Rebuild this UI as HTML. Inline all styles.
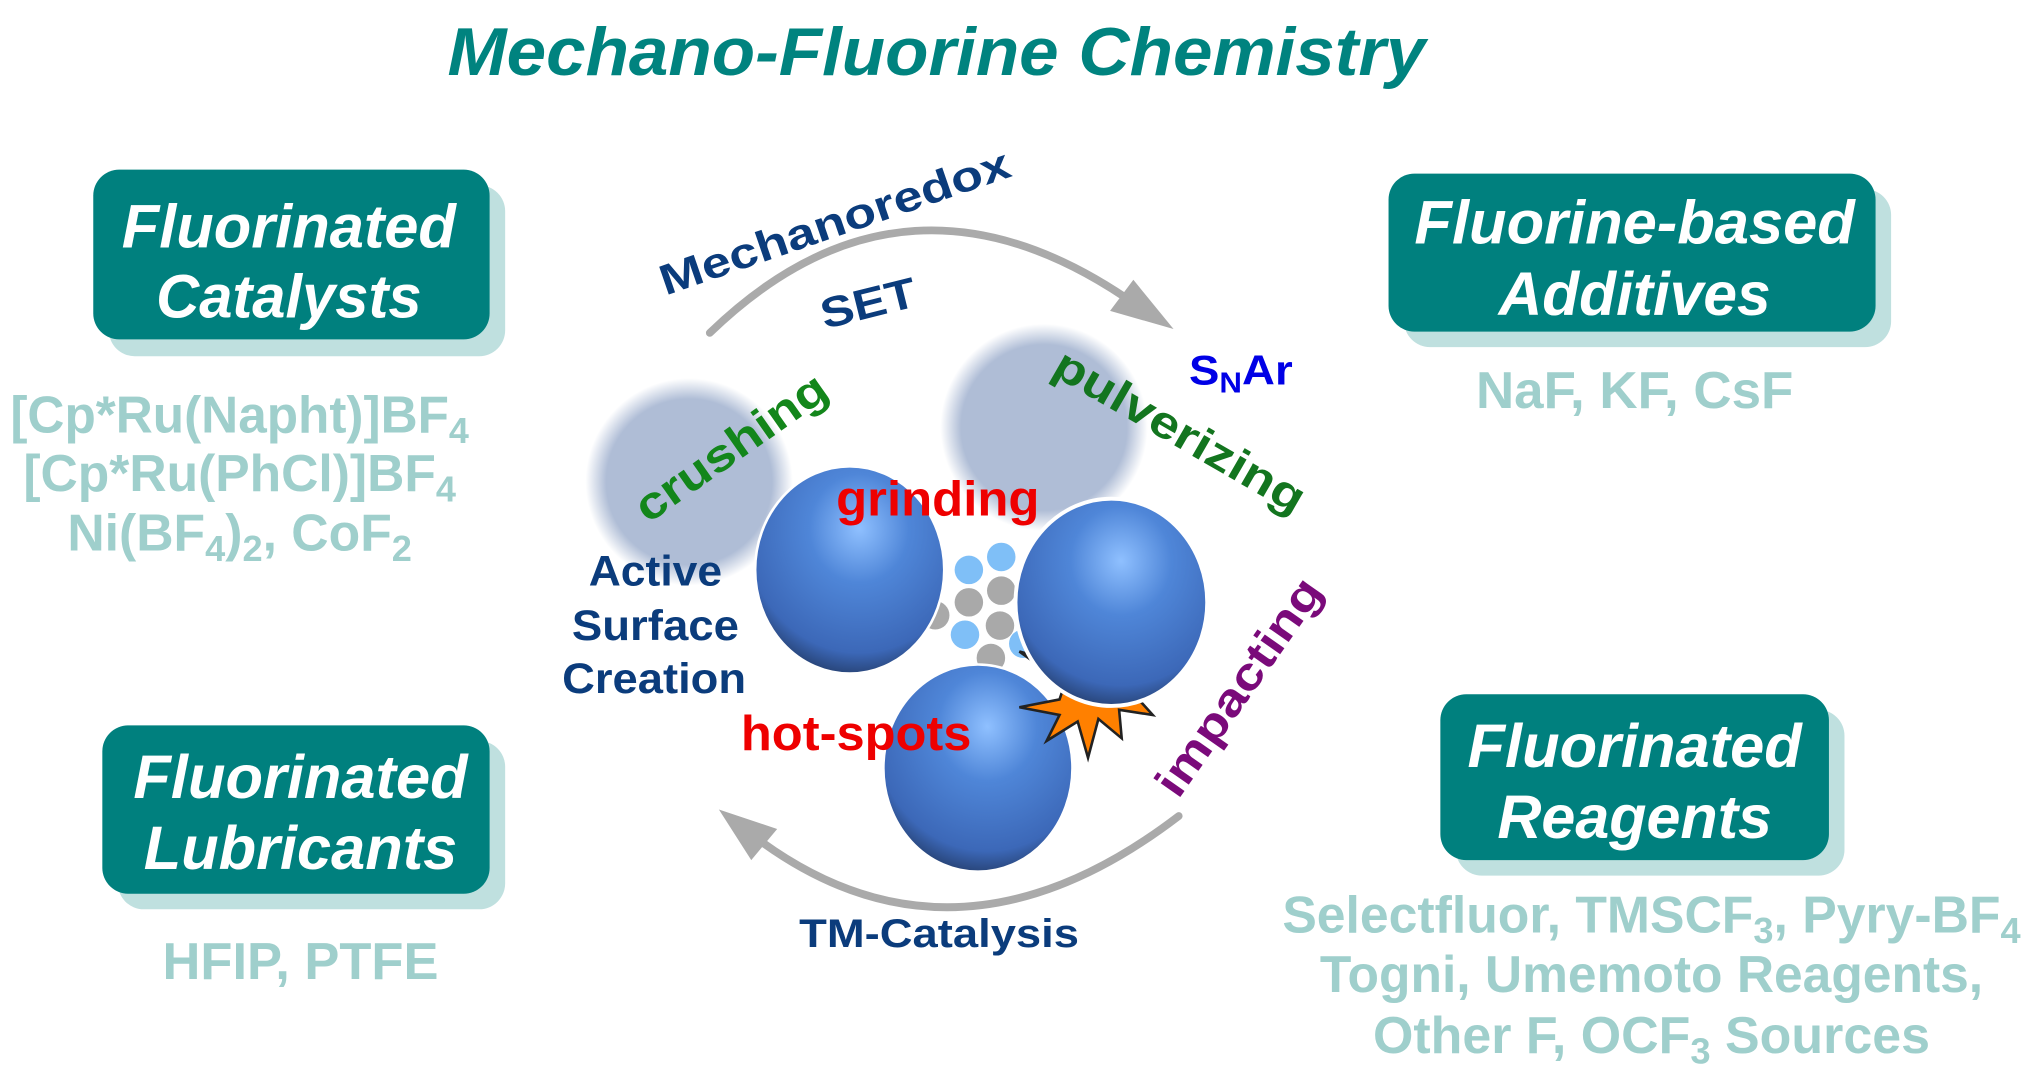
<!DOCTYPE html>
<html><head><meta charset="utf-8"><style>
html,body{margin:0;padding:0;background:#fff;}
svg{display:block;}
text{font-family:"Liberation Sans",Arial,sans-serif;font-weight:bold;}
</style></head><body>
<svg width="2031" height="1076" viewBox="0 0 1568 830.7" xmlns="http://www.w3.org/2000/svg">
<defs>
<radialGradient id="ball" cx="0.55" cy="0.3" r="0.75">
<stop offset="0" stop-color="#8fc0ff"/>
<stop offset="0.35" stop-color="#4f86d8"/>
<stop offset="0.8" stop-color="#3c68b8"/>
<stop offset="1" stop-color="#20365e"/>
</radialGradient>
<radialGradient id="blur" cx="0.5" cy="0.5" r="0.5">
<stop offset="0" stop-color="#afbdd6"/>
<stop offset="0.8" stop-color="#afbdd6"/>
<stop offset="1" stop-color="#afbdd6" stop-opacity="0"/>
</radialGradient>
</defs>

<text x="723" y="58" text-anchor="middle" font-size="52" font-style="italic" fill="#00837f" textLength="755" lengthAdjust="spacingAndGlyphs">Mechano-Fluorine Chemistry</text>

<g>
<rect x="84" y="143" width="306" height="132" rx="20" fill="#bfe0df"/>
<rect x="72" y="131" width="306" height="131" rx="20" fill="#00807e"/>
<text x="223" y="191" text-anchor="middle" font-size="47" font-style="italic" fill="#fff" textLength="258" lengthAdjust="spacingAndGlyphs">Fluorinated</text>
<text x="223" y="245" text-anchor="middle" font-size="47" font-style="italic" fill="#fff" textLength="205" lengthAdjust="spacingAndGlyphs">Catalysts</text>

<rect x="1084" y="146" width="376" height="122" rx="20" fill="#bfe0df"/>
<rect x="1072" y="134" width="376" height="122" rx="20" fill="#00807e"/>
<text x="1262" y="188" text-anchor="middle" font-size="47" font-style="italic" fill="#fff" textLength="340" lengthAdjust="spacingAndGlyphs">Fluorine-based</text>
<text x="1262" y="243" text-anchor="middle" font-size="47" font-style="italic" fill="#fff" textLength="210" lengthAdjust="spacingAndGlyphs">Additives</text>

<rect x="91" y="572" width="299" height="130" rx="20" fill="#bfe0df"/>
<rect x="79" y="560" width="299" height="130" rx="20" fill="#00807e"/>
<text x="232" y="616" text-anchor="middle" font-size="47" font-style="italic" fill="#fff" textLength="258" lengthAdjust="spacingAndGlyphs">Fluorinated</text>
<text x="232" y="671" text-anchor="middle" font-size="47" font-style="italic" fill="#fff" textLength="242" lengthAdjust="spacingAndGlyphs">Lubricants</text>

<rect x="1124" y="548" width="300" height="128" rx="20" fill="#bfe0df"/>
<rect x="1112" y="536" width="300" height="128" rx="20" fill="#00807e"/>
<text x="1262" y="592" text-anchor="middle" font-size="47" font-style="italic" fill="#fff" textLength="258" lengthAdjust="spacingAndGlyphs">Fluorinated</text>
<text x="1262" y="647" text-anchor="middle" font-size="47" font-style="italic" fill="#fff" textLength="212" lengthAdjust="spacingAndGlyphs">Reagents</text>
</g>

<g fill="#9fcfcc" font-size="40" text-anchor="middle">
<text x="185" y="334" textLength="354" lengthAdjust="spacingAndGlyphs">[Cp*Ru(Napht)]BF<tspan font-size="28" dy="8">4</tspan></text>
<text x="185" y="379" textLength="334" lengthAdjust="spacingAndGlyphs">[Cp*Ru(PhCl)]BF<tspan font-size="28" dy="8">4</tspan></text>
<text x="185" y="425" textLength="266" lengthAdjust="spacingAndGlyphs">Ni(BF<tspan font-size="28" dy="8">4</tspan><tspan dy="-8">)</tspan><tspan font-size="28" dy="8">2</tspan><tspan dy="-8">, CoF</tspan><tspan font-size="28" dy="8">2</tspan></text>
<text x="1262" y="315" textLength="245" lengthAdjust="spacingAndGlyphs">NaF, KF, CsF</text>
<text x="232" y="756" textLength="213" lengthAdjust="spacingAndGlyphs">HFIP, PTFE</text>
<text x="1275" y="720" textLength="570" lengthAdjust="spacingAndGlyphs">Selectfluor, TMSCF<tspan font-size="28" dy="8">3</tspan><tspan dy="-8">, Pyry-BF</tspan><tspan font-size="28" dy="8">4</tspan></text>
<text x="1275" y="766" textLength="512" lengthAdjust="spacingAndGlyphs">Togni, Umemoto Reagents,</text>
<text x="1275" y="813" textLength="430" lengthAdjust="spacingAndGlyphs">Other F, OCF<tspan font-size="28" dy="8">3</tspan><tspan dy="-8"> Sources</tspan></text>
</g>

<g fill="none" stroke="#aaaaaa" stroke-width="6" stroke-linecap="round">
<path d="M548,257 Q700,110 878,236"/>
<path d="M910,630 Q740,760 588,650"/>
</g>
<polygon points="906,254 857,240 875,216" fill="#aaaaaa"/>
<polygon points="555,625 600,640 580,664" fill="#aaaaaa"/>

<circle cx="532" cy="372" r="80" fill="url(#blur)"/>
<circle cx="806" cy="330" r="80" fill="url(#blur)"/>

<g>
<circle cx="773" cy="430" r="11" fill="#7fbff7"/>
<circle cx="748" cy="440" r="11" fill="#7fbff7"/>
<circle cx="773" cy="456" r="11" fill="#a9a9a9"/>
<circle cx="748" cy="465" r="11" fill="#a9a9a9"/>
<circle cx="722" cy="475" r="11" fill="#a9a9a9"/>
<circle cx="772" cy="483" r="11" fill="#a9a9a9"/>
<circle cx="745" cy="490" r="11" fill="#7fbff7"/>
<circle cx="765" cy="508" r="11" fill="#a9a9a9"/>
<circle cx="790" cy="497" r="11" fill="#7fbff7"/>
</g>

<ellipse cx="656" cy="440" rx="73" ry="80" fill="url(#ball)" stroke="#fff" stroke-width="2"/>
<ellipse cx="755" cy="593" rx="73" ry="80" fill="url(#ball)" stroke="#fff" stroke-width="2"/>
<polygon points="787,503 822,528 818,540 787,546 818,552 808,572 832,557 840,585 848,555 866,570 864,548 890,552 870,530 880,515 850,520" fill="#ff8000" stroke="#222" stroke-width="2"/>
<ellipse cx="858" cy="465" rx="74" ry="80" fill="url(#ball)" stroke="#fff" stroke-width="3"/>

<text transform="translate(648,182) rotate(-19)" text-anchor="middle" font-size="33" fill="#0b3c7c" textLength="284" lengthAdjust="spacingAndGlyphs">Mechanoredox</text>
<text transform="translate(673,245) rotate(-14)" text-anchor="middle" font-size="33" fill="#0b3c7c" textLength="75" lengthAdjust="spacingAndGlyphs">SET</text>
<text x="958" y="297" text-anchor="middle" font-size="32" fill="#0000e6" textLength="80" lengthAdjust="spacingAndGlyphs">S<tspan font-size="22" dy="6">N</tspan><tspan dy="-6">Ar</tspan></text>
<text transform="translate(571,355) rotate(-35)" text-anchor="middle" font-size="35" fill="#13861b" textLength="173" lengthAdjust="spacingAndGlyphs">crushing</text>
<text transform="translate(905,343) rotate(30)" text-anchor="middle" font-size="35" fill="#13751f" textLength="218" lengthAdjust="spacingAndGlyphs">pulverizing</text>
<text x="724" y="398" text-anchor="middle" font-size="38" fill="#ee0000" textLength="157" lengthAdjust="spacingAndGlyphs">grinding</text>
<g font-size="33" fill="#0b3c7c" text-anchor="middle">
<text x="506" y="452" textLength="103" lengthAdjust="spacingAndGlyphs">Active</text>
<text x="506" y="494" textLength="129" lengthAdjust="spacingAndGlyphs">Surface</text>
<text x="505" y="535" textLength="142" lengthAdjust="spacingAndGlyphs">Creation</text>
</g>
<text x="661" y="579" text-anchor="middle" font-size="38" fill="#ee0000" textLength="178" lengthAdjust="spacingAndGlyphs">hot-spots</text>
<text transform="translate(966,537) rotate(-55)" text-anchor="middle" font-size="35" fill="#7a0a7a" textLength="197" lengthAdjust="spacingAndGlyphs">impacting</text>
<text x="725" y="731" text-anchor="middle" font-size="31" fill="#0b3c7c" textLength="216" lengthAdjust="spacingAndGlyphs">TM-Catalysis</text>
</svg>
</body></html>
